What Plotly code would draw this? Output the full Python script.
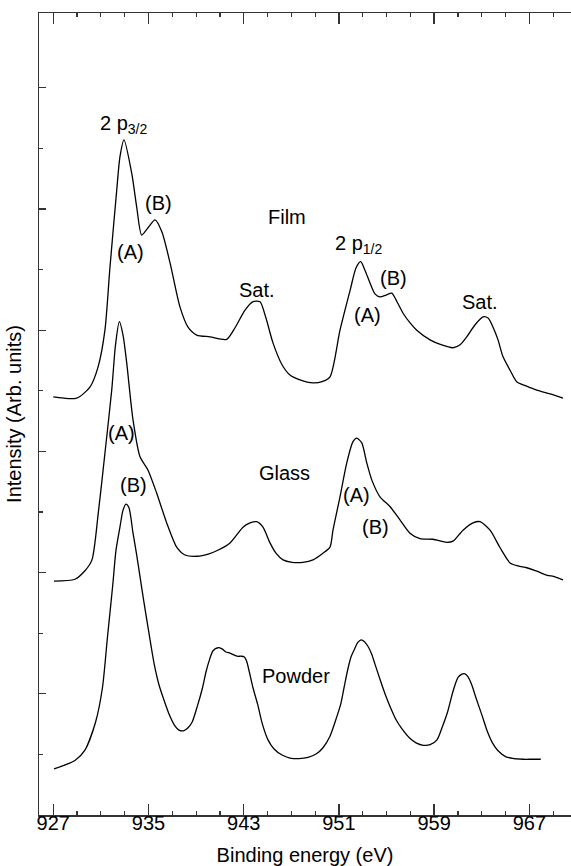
import plotly.graph_objects as go

# ---------------- data ----------------
film_x = [927.0, 928.97, 930.08, 930.76, 931.34, 931.76, 932.33, 932.60, 932.94, 933.59, 934.01,
          934.43, 934.96, 935.55, 936.13, 936.81, 937.65, 938.32, 939.05, 940.17, 941.57, 942.27,
          943.11, 943.78, 944.37, 944.87, 945.46, 946.22, 946.89, 947.73, 948.82, 949.58, 950.25,
          951.09, 951.93, 952.44, 952.83, 953.19, 953.61, 954.03, 954.45, 954.96, 955.44, 955.88,
          956.39, 956.98, 957.54, 958.66, 959.58, 960.59, 961.18, 961.74, 962.44, 963.11, 963.53,
          963.95, 964.37, 964.79, 965.38, 965.94, 966.72, 967.62, 968.74, 969.83]
film_y = [6.90, 6.88, 7.06, 7.39, 8.00, 9.03, 10.31, 10.86, 11.14, 10.59, 10.03,
          9.57, 9.69, 9.82, 9.62, 9.11, 8.38, 8.05, 7.92, 7.89, 7.85, 8.04,
          8.33, 8.47, 8.47, 8.20, 7.79, 7.43, 7.26, 7.18, 7.13, 7.15, 7.23,
          8.00, 8.65, 9.03, 9.13, 8.99, 8.78, 8.60, 8.55, 8.58, 8.61, 8.47,
          8.28, 8.12, 8.00, 7.84, 7.76, 7.71, 7.76, 7.89, 8.09, 8.22, 8.20,
          8.05, 7.84, 7.56, 7.34, 7.15, 7.08, 7.01, 6.95, 6.88]

glass_x = [927.06, 928.82, 929.66, 930.25, 930.78, 931.34, 931.91, 932.23, 932.55, 932.86, 933.17,
           933.70, 934.29, 934.96, 935.69, 936.53, 937.37, 938.07, 939.08, 940.08, 940.73, 941.85,
           942.94, 943.53, 944.09, 944.62, 945.21, 945.71, 946.30, 947.06, 947.98, 948.82, 949.66,
           950.25, 950.50, 951.09, 951.66, 952.18, 952.50, 952.92, 953.34, 953.76, 954.45, 955.29,
           956.13, 956.97, 957.81, 958.90, 960.06, 960.59, 961.43, 962.27, 962.86, 963.70, 964.54,
           965.38, 966.05, 966.78, 967.56, 968.46, 969.16, 969.83]
glass_y = [3.86, 3.89, 4.03, 4.21, 4.98, 5.97, 7.01, 7.76, 8.14, 7.92, 7.46,
           6.52, 5.91, 5.69, 5.31, 4.82, 4.42, 4.29, 4.27, 4.31, 4.36, 4.49,
           4.75, 4.82, 4.84, 4.75, 4.49, 4.32, 4.21, 4.17, 4.17, 4.21, 4.32,
           4.42, 4.70, 5.25, 5.81, 6.16, 6.22, 6.14, 5.81, 5.53, 5.25, 5.09,
           4.87, 4.65, 4.56, 4.55, 4.50, 4.52, 4.70, 4.82, 4.84, 4.70, 4.41,
           4.16, 4.11, 4.08, 4.03, 3.96, 3.93, 3.88]

powder_x = [927.06, 928.82, 929.66, 930.55, 931.13, 931.56, 932.00, 932.27, 932.60, 932.86, 933.11,
            933.36, 933.70, 934.01, 934.29, 934.61, 935.04, 935.48, 935.88, 936.35, 936.76, 937.22,
            937.56, 937.95, 938.32, 938.66, 939.08, 939.54, 939.83, 940.12, 940.42, 940.84, 941.18,
            941.51, 941.85, 942.44, 942.77, 943.03, 943.24, 943.45, 943.78, 944.18, 944.54, 945.04,
            945.55, 946.22, 946.89, 947.65, 948.40, 949.11, 949.66, 950.25, 950.67, 951.14, 951.43,
            951.72, 952.02, 952.27, 952.56, 952.86, 953.15, 953.45, 953.74, 954.03, 954.45, 954.91,
            955.34, 955.78, 956.30, 956.94, 957.48, 958.10, 958.66, 959.24, 959.66, 960.13, 960.50,
            960.76, 961.01, 961.30, 961.58, 961.85, 962.16, 962.52, 963.03, 963.45, 963.90, 964.37,
            965.04, 965.71, 966.47, 967.23, 967.96]
powder_y = [0.76, 0.90, 1.07, 1.53, 2.10, 2.95, 3.80, 4.37, 4.75, 5.03, 5.13,
            5.07, 4.65, 4.29, 3.93, 3.52, 3.00, 2.49, 2.15, 1.87, 1.65, 1.47,
            1.40, 1.39, 1.44, 1.53, 1.78, 2.10, 2.36, 2.56, 2.71, 2.76, 2.74,
            2.69, 2.67, 2.62, 2.62, 2.61, 2.54, 2.38, 2.10, 1.82, 1.52, 1.24,
            1.09, 0.99, 0.94, 0.93, 0.95, 1.01, 1.11, 1.30, 1.53, 1.82, 2.10,
            2.38, 2.61, 2.72, 2.84, 2.89, 2.86, 2.78, 2.66, 2.49, 2.24, 1.98,
            1.77, 1.58, 1.42, 1.27, 1.19, 1.15, 1.16, 1.24, 1.44, 1.70, 1.98,
            2.15, 2.27, 2.32, 2.33, 2.28, 2.15, 1.93, 1.64, 1.39, 1.19, 1.06,
            0.96, 0.93, 0.92, 0.92, 0.92]

label_text = ["2 p<sub>3/2</sub>", "(B)", "(A)", "Film", "Sat.", "2 p<sub>1/2</sub>", "(B)", "(A)", "Sat.",
              "(A)", "(B)", "Glass", "(A)", "(B)", "Powder"]
label_x = [932.9, 935.8, 933.45, 946.63, 944.12, 952.61, 955.55, 953.36, 962.83,
           932.75, 933.70, 946.45, 952.45, 954.05, 947.37]
label_y = [11.39, 10.10, 9.29, 9.87, 8.66, 9.41, 8.86, 8.25, 8.47,
           6.30, 5.45, 5.64, 5.28, 4.75, 2.29]

x_major_ticks = [927, 935, 943, 951, 959, 967]
x_mid_ticks = [931, 939, 947, 955, 963]

FONT = "Liberation Sans, Arial, Helvetica, sans-serif"
AX = "#333333"

fig = go.Figure()
for name, xs, ys in [("Film", film_x, film_y), ("Glass", glass_x, glass_y), ("Powder", powder_x, powder_y)]:
    fig.add_trace(go.Scatter(x=xs, y=ys, mode="lines", name=name,
                             line=dict(color="black", width=1.3, shape="spline", smoothing=0.7),
                             showlegend=False, hoverinfo="skip"))

for t, x, y in zip(label_text, label_x, label_y):
    fig.add_annotation(x=x, y=y, text=t, showarrow=False, xanchor="center", yanchor="middle",
                       font=dict(family=FONT, size=20, color="black"))

fig.update_layout(
    width=571, height=866,
    margin=dict(l=39, r=0, t=13, b=51),
    paper_bgcolor="white", plot_bgcolor="white",
    font=dict(family=FONT, color="black", size=20),
    xaxis=dict(range=[925.8, 970.5], tickmode="array", tickvals=x_major_ticks,
               ticks="inside", ticklen=11, tickwidth=1.3, tickcolor=AX,
               showline=True, linecolor=AX, linewidth=1.5, mirror="ticks",
               showgrid=False, zeroline=False, automargin=False,
               tickfont=dict(size=20), ticklabelstandoff=-11,
               minor=dict(dtick=2, tick0=927, ticks="inside", ticklen=4, tickwidth=1.2, tickcolor=AX),
               title=dict(text="Binding energy (eV)", font=dict(size=20), standoff=16)),
    xaxis2=dict(range=[925.8, 970.5], overlaying="x", anchor="y", side="bottom",
                tickmode="array", tickvals=x_mid_ticks, ticks="inside", ticklen=7, tickwidth=1.2,
                tickcolor=AX, showticklabels=False, showline=True, linecolor=AX, linewidth=1.5,
                mirror="ticks", showgrid=False, zeroline=False, automargin=False),
    yaxis=dict(range=[0, 13.234], tickmode="array", tickvals=[2, 4, 6, 8, 10, 12],
               ticks="inside", ticklen=7, tickwidth=1.2, tickcolor=AX, showticklabels=False,
               showline=True, linecolor=AX, linewidth=1.5, mirror=False,
               showgrid=False, zeroline=False, automargin=False,
               minor=dict(tickvals=[1, 3, 5, 7, 9, 11], ticks="inside", ticklen=4, tickwidth=1.2, tickcolor=AX),
               title=dict(text="Intensity (Arb. units)", font=dict(size=20), standoff=10)),
)

fig.write_html("out.html", config={"displayModeBar": False, "staticPlot": True},
               post_script="document.body.style.margin='0';document.body.style.overflow='hidden';")
